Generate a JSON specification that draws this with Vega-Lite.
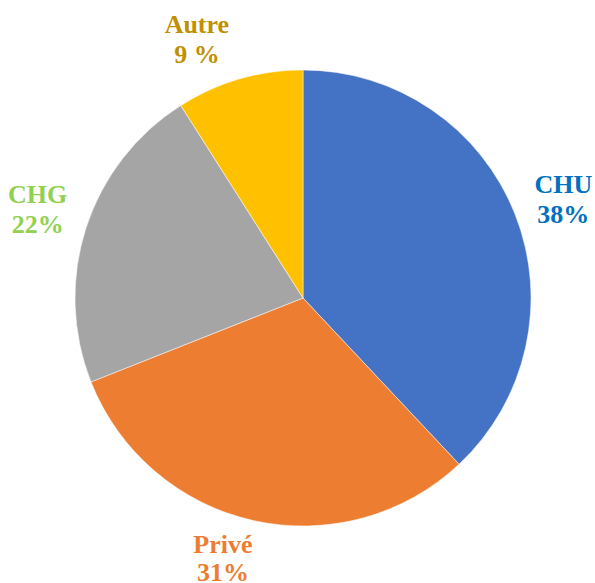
{
  "$schema": "https://vega.github.io/schema/vega-lite/v6.json",
  "width": 606,
  "height": 596,
  "padding": 0,
  "autosize": {"type": "none"},
  "background": "white",
  "data": {
    "values": [
      {"category": "CHU", "value": 38, "pct": "38%", "rank": 1},
      {"category": "Privé", "value": 31, "pct": "31%", "rank": 2},
      {"category": "CHG", "value": 22, "pct": "22%", "rank": 3},
      {"category": "Autre", "value": 9, "pct": "9 %", "rank": 4}
    ]
  },
  "transform": [
    {"stack": "value", "groupby": [], "sort": [{"field": "rank", "order": "ascending"}], "as": ["v0", "v1"]},
    {"calculate": "(datum.v0 + datum.v1) / 2", "as": "vmid"},
    {"calculate": "[datum.category, datum.pct]", "as": "label"}
  ],
  "layer": [
    {
      "mark": {"type": "arc", "outerRadius": 228, "stroke": "white", "strokeWidth": 0.5},
      "encoding": {
        "theta": {"field": "v0", "type": "quantitative", "scale": {"domain": [0, 100]}},
        "theta2": {"field": "v1"},
        "color": {
          "field": "category",
          "type": "nominal",
          "scale": {"domain": ["CHU", "Privé", "CHG", "Autre"], "range": ["#4472C4", "#ED7D31", "#A5A5A5", "#FFC000"]},
          "legend": null
        }
      }
    },
    {
      "layer": [
        {
          "transform": [{"filter": "datum.category === 'CHU'"}],
          "mark": {"type": "text", "radius": 280, "dx": 0, "dy": -10, "font": "Liberation Serif", "fontWeight": "bold", "fontSize": 26, "lineHeight": 30, "align": "center", "baseline": "middle"}
        },
        {
          "transform": [{"filter": "datum.category === 'Privé'"}],
          "mark": {"type": "text", "radius": 280, "dx": -19, "dy": -26, "font": "Liberation Serif", "fontWeight": "bold", "fontSize": 26, "lineHeight": 28, "align": "center", "baseline": "middle"}
        },
        {
          "transform": [{"filter": "datum.category === 'CHG'"}],
          "mark": {"type": "text", "radius": 280, "dx": 1, "dy": -16, "font": "Liberation Serif", "fontWeight": "bold", "fontSize": 26, "lineHeight": 30, "align": "center", "baseline": "middle"}
        },
        {
          "transform": [{"filter": "datum.category === 'Autre'"}],
          "mark": {"type": "text", "radius": 280, "dx": -28, "dy": -4, "font": "Liberation Serif", "fontWeight": "bold", "fontSize": 26, "lineHeight": 30, "align": "center", "baseline": "middle"}
        }
      ],
      "encoding": {
        "theta": {"field": "vmid", "type": "quantitative", "scale": {"domain": [0, 100]}},
        "text": {"field": "label"},
        "color": {
          "field": "category",
          "type": "nominal",
          "scale": {"domain": ["CHU", "Privé", "CHG", "Autre"], "range": ["#0070C0", "#ED7D31", "#92D050", "#BF9000"]},
          "legend": null
        }
      }
    }
  ],
  "resolve": {"scale": {"color": "independent"}}
}
